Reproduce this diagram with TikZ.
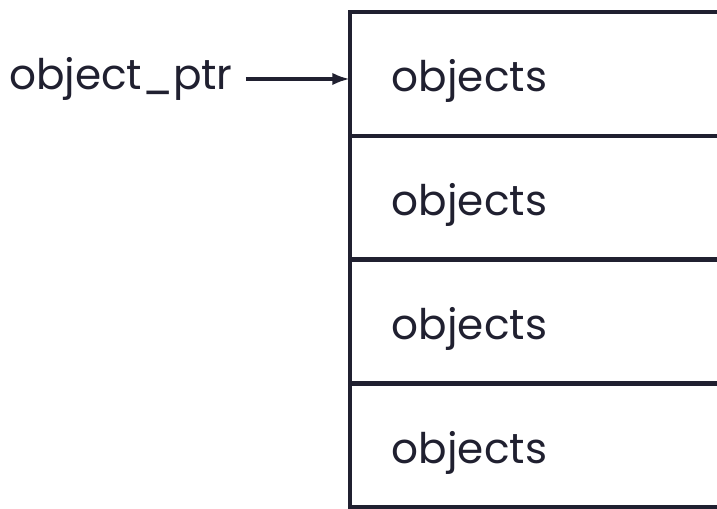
\documentclass[tikz,border=0pt]{standalone}
\usepackage{fontspec}
\setmainfont{Poppins}
\usetikzlibrary{positioning,arrows.meta}
\definecolor{ink}{HTML}{202030}

\begin{document}
\begin{tikzpicture}[x=0.02cm,y=-0.02cm]
    % Setup the styles
        \tikzset{cell style/.style={draw=ink,
                                    line width=2.8pt,
                                    outer sep=0pt,
                                    minimum height=2.48cm,
                                    text width=6cm,
                                    text height=25pt,
                                    text depth=5pt,
                                    inner xsep=0.84cm,
                                    align=left,
                                    text=ink,
                                    font=\fontsize{24}{28}\selectfont},
                 ptr style/.style={text=ink,
                                   inner sep=0pt,
                                   font=\fontsize{24}{28}\selectfont}}
        \useasboundingbox (0,0) rectangle (717,509);

        % Draw the cells
        \node[cell style, anchor=north west] at (350, 12) (cell1) {objects};
        \node[cell style, below=0pt of cell1] (cell2) {objects};
        \node[cell style, below=0pt of cell2] (cell3) {objects};
        \node[cell style, below=0pt of cell3] (cell4) {objects};
        % The pointer
        \node[ptr style, anchor=east] at (233, 79) (ptr) {object\_ptr};
        \draw[draw=ink, line width=2.3pt, -{Latex[length=10pt,width=7pt]}]
            ([xshift=0.26cm]ptr.east) -- (cell1.west |- ptr.east);
\end{tikzpicture}
\end{document}
